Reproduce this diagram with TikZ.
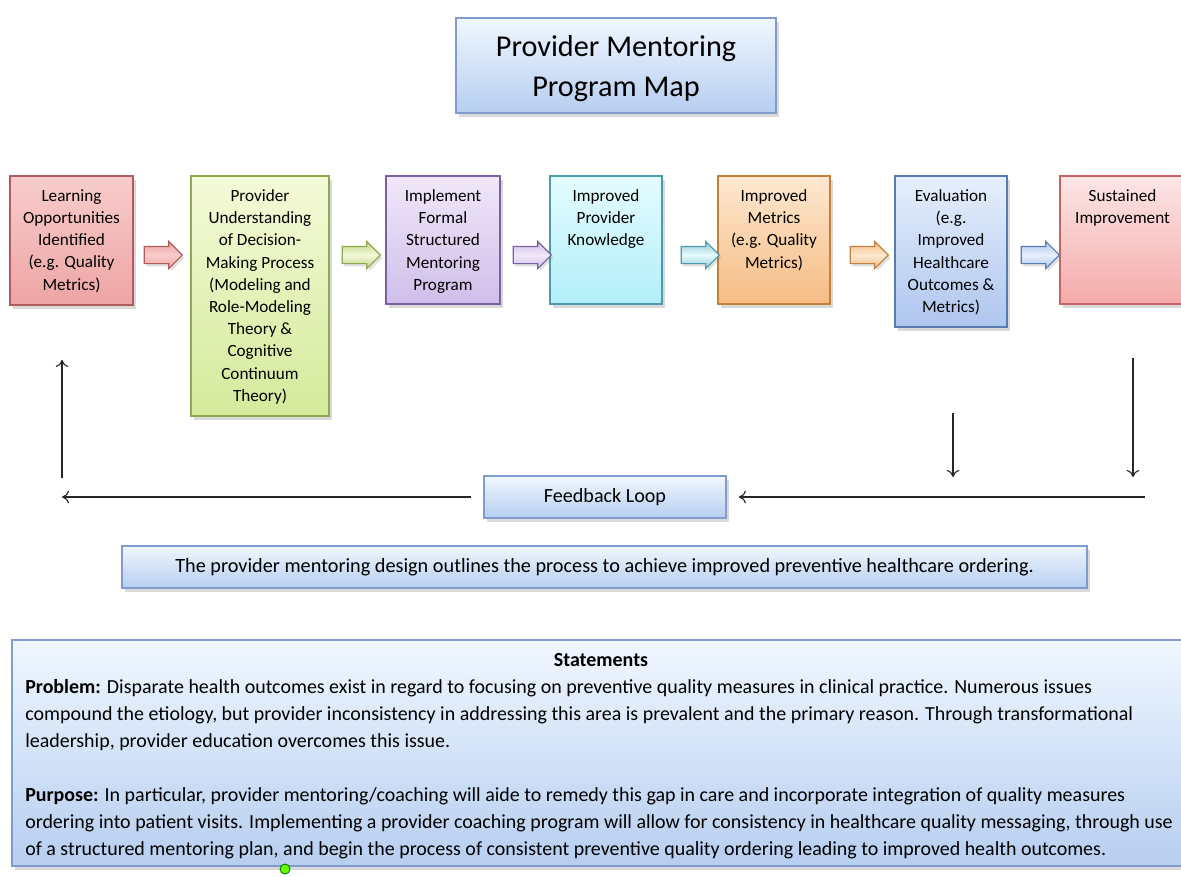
\documentclass[tikz,border=0pt]{standalone}
\usepackage{fontspec}
\setmainfont{Carlito}
\usetikzlibrary{shapes.arrows,shadows,fit,arrows.meta}

% box colours: edge, top, bottom
\definecolor{learnEdge}{HTML}{B05C5C}  \definecolor{learnTop}{HTML}{F8CCCC}  \definecolor{learnBot}{HTML}{EEA4A4}
\definecolor{undEdge}{HTML}{8CAA4C}    \definecolor{undTop}{HTML}{F4FAD8}    \definecolor{undBot}{HTML}{D4EA9A}
\definecolor{implEdge}{HTML}{7A62A2}   \definecolor{implTop}{HTML}{F0E8FA}   \definecolor{implBot}{HTML}{D0BEEA}
\definecolor{knowEdge}{HTML}{4C9CAE}   \definecolor{knowTop}{HTML}{E4FCFF}   \definecolor{knowBot}{HTML}{B2EEF8}
\definecolor{metEdge}{HTML}{C2803E}    \definecolor{metTop}{HTML}{FDE8D0}    \definecolor{metBot}{HTML}{F6BC84}
\definecolor{evalEdge}{HTML}{5A7AB2}   \definecolor{evalTop}{HTML}{E6EFFC}   \definecolor{evalBot}{HTML}{AEC6EE}
\definecolor{sustEdge}{HTML}{C46464}   \definecolor{sustTop}{HTML}{FDE6E6}   \definecolor{sustBot}{HTML}{F4AAAA}
\definecolor{noteEdge}{HTML}{7F9CCC}   \definecolor{noteTop}{HTML}{F0F7FF}   \definecolor{noteBot}{HTML}{B6CEF0}

\tikzset{
  mapbox/.style n args={3}{rectangle, draw=#1, line width=1.2pt, top color=#2, bottom color=#3,
    inner sep=0pt, drop shadow={opacity=0.3, shadow xshift=2pt, shadow yshift=-2.5pt}},
  boxtext/.style={anchor=north, align=center, inner sep=0pt, yshift=-0.35cm,
    font=\fontsize{12.2}{15.8}\selectfont, text=black},
  flowarrow/.style n args={3}{single arrow, draw=#1, line width=0.8pt, top color=#2, bottom color=#2,
    middle color=#3, minimum height=0.95cm, single arrow head extend=0.125cm,
    inner xsep=0pt, inner ysep=0.2cm, drop shadow={opacity=0.25, shadow xshift=1.5pt, shadow yshift=-2pt}},
  loopline/.style={-{Computer Modern Rightarrow[length=5pt, width=9pt]}, line width=0.8pt, black!85},
}

\begin{document}
\begin{tikzpicture}[x=0.025cm, y=-0.025cm]
  \useasboundingbox (0,0) rectangle (1181,876);

  % title
  \node[mapbox={noteEdge}{noteTop}{noteBot}, fit={(456,18) (776,113)}] (title) {};
  \node[font=\fontsize{21.5}{28.5}\selectfont, align=center, text=black, yshift=-0.07cm] (titletext) at (title.center)
    {Provider Mentoring\\Program Map};

  % the seven steps
  \node[mapbox={learnEdge}{learnTop}{learnBot}, fit={(10,176) (133,305)}] (learn) {};
  \node[boxtext] (learntext) at (learn.north)
    {Learning\\Opportunities\\Identified\\(e.g. Quality\\Metrics)};

  \node[mapbox={undEdge}{undTop}{undBot}, fit={(191,176) (329,416)}] (underst) {};
  \node[boxtext] (understtext) at (underst.north)
    {Provider\\Understanding\\of Decision-\\Making Process\\(Modeling and\\Role-Modeling\\Theory \&\\Cognitive\\Continuum\\Theory)};

  \node[mapbox={implEdge}{implTop}{implBot}, fit={(386,176) (500,304)}] (impl) {};
  \node[boxtext] (impltext) at (impl.north)
    {Implement\\Formal\\Structured\\Mentoring\\Program};

  \node[mapbox={knowEdge}{knowTop}{knowBot}, fit={(550,176) (662,304)}] (know) {};
  \node[boxtext] (knowtext) at (know.north)
    {Improved\\Provider\\Knowledge};

  \node[mapbox={metEdge}{metTop}{metBot}, fit={(718,176) (830,304)}] (metrics) {};
  \node[boxtext] (metricstext) at (metrics.north)
    {Improved\\Metrics\\(e.g. Quality\\Metrics)};

  \node[mapbox={evalEdge}{evalTop}{evalBot}, fit={(895,176) (1007,327)}] (eval) {};
  \node[boxtext] (evaltext) at (eval.north)
    {Evaluation\\(e.g.\\Improved\\Healthcare\\Outcomes \&\\Metrics)};

  \node[mapbox={sustEdge}{sustTop}{sustBot}, fit={(1060,176) (1185,304)}] (sust) {};
  \node[boxtext] (susttext) at (sust.north)
    {Sustained\\Improvement};

  % block arrows between steps
  \node[flowarrow={learnEdge}{learnBot}{learnTop}] (arr1) at (159,255) {};
  \node[flowarrow={undEdge}{undBot!90!black}{undTop}] (arr2) at (357,255) {};
  \node[flowarrow={implEdge}{implBot}{implTop}] (arr3) at (528,255) {};
  \node[flowarrow={knowEdge}{knowBot!85!black}{knowTop}] (arr4) at (696,255) {};
  \node[flowarrow={metEdge}{metBot}{metTop}] (arr5) at (865,255) {};
  \node[flowarrow={evalEdge}{evalBot}{evalTop}] (arr6) at (1036,255) {};

  % feedback loop
  \node[mapbox={noteEdge}{noteTop}{noteBot}, fit={(484,476) (726,518)}] (feedback) {};
  \node[font=\fontsize{14.3}{17}\selectfont, text=black] (feedbacktext) at (feedback.center) {Feedback Loop};

  \coordinate (loopR) at (1145,497);
  \coordinate (loopL) at (62,497);
  \coordinate (upS) at (62,478);
  \coordinate (dn1) at (953,413);
  \coordinate (dn2) at (1133,358);

  \draw[loopline, shorten >=0.3cm] (loopR) -- (feedback.east);
  \draw[loopline, shorten <=0.3cm] (feedback.west) -- (loopL);
  \draw[loopline, shorten >=1.35cm] (upS) -- (upS |- learn.south);
  \draw[loopline, shorten >=0.5cm] (dn1) -- (dn1 |- loopR);
  \draw[loopline, shorten >=0.5cm] (dn2) -- (dn2 |- loopR);

  % design summary
  \node[mapbox={noteEdge}{noteTop}{noteBot}, fit={(122,546) (1087,588)}] (design) {};
  \node[font=\fontsize{14.4}{17}\selectfont, text=black] (designtext) at (design.center)
    {The provider mentoring design outlines the process to achieve improved preventive healthcare ordering.};

  % statements
  \node[mapbox={noteEdge}{noteTop}{noteBot}, fit={(12,640) (1200,866)}] (statements) {};
  \node[font=\bfseries\fontsize{14.2}{19.2}\selectfont, text=black] (stathead) at (601,660) {Statements};
  \node[anchor=north west, align=left, inner sep=0pt, font=\fontsize{14.2}{19.2}\selectfont, text=black]
    (stattext) at (25,679)
    {\textbf{Problem:} Disparate health outcomes exist in regard to focusing on preventive quality measures in clinical practice. Numerous issues\\
     compound the etiology, but provider inconsistency in addressing this area is prevalent and the primary reason. Through transformational\\
     leadership, provider education overcomes this issue.\\[19.2pt]
     \textbf{Purpose:} In particular, provider mentoring/coaching will aide to remedy this gap in care and incorporate integration of quality measures\\
     ordering into patient visits. Implementing a provider coaching program will allow for consistency in healthcare quality messaging, through use\\
     of a structured mentoring plan, and begin the process of consistent preventive quality ordering leading to improved health outcomes.};

  \node[circle, draw=green!45!black, fill=green!60!yellow, line width=0.6pt, inner sep=0pt, minimum size=0.25cm] (handle) at (285,869) {};
\end{tikzpicture}
\end{document}
